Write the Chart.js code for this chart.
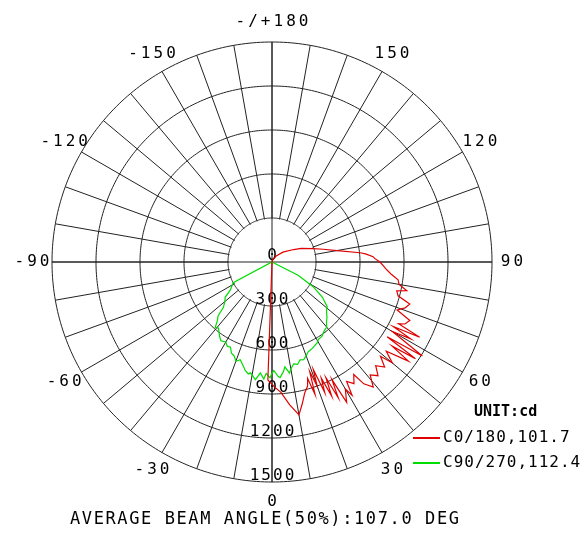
<!DOCTYPE html>
<html>
<head>
<meta charset="utf-8">
<script src="https://cdn.jsdelivr.net/npm/chart.js@4"></script>
<style>
  body{margin:0;background:#fff;font-family:"DejaVu Sans Mono",monospace;}
  #wrap{position:relative;width:587px;height:541px;}
  .t{position:absolute;font-size:16px;color:#000;white-space:nowrap;letter-spacing:1px;}
  .sw{position:absolute;height:2px;width:27px;}
</style>
</head>
<body>
<div id="wrap">
  <canvas id="c" width="587" height="541"></canvas>
  <div class="t" style="left:474px;top:402px;font-weight:bold;font-size:15px;letter-spacing:0">UNIT:cd</div>
  <div class="sw" style="left:413px;top:437px;background:#e00000"></div>
  <div class="t" style="left:443px;top:427px">C0/180,101.7</div>
  <div class="sw" style="left:413px;top:462px;background:#00dd00"></div>
  <div class="t" style="left:443px;top:452px">C90/270,112.4</div>
  <div class="t" style="left:70px;top:508px;font-size:17px;letter-spacing:1.6px">AVERAGE BEAM ANGLE(50%):107.0 DEG</div>
</div>
<script>
/* ---- data ---------------------------------------------------------- */
const TICKS = [0, 300, 600, 900, 1200, 1500];
const ANGLE_TEXT = {180:"-/+180",150:"150",120:"120",90:"90",60:"60",30:"30",0:"0",
  "-30":"-30","-60":"-60","-90":"-90","-120":"-120","-150":"-150"};

// C0/180 plane (angle in degrees, 0 = down, 90 = right)
const RED_ANG = [180,160,145,132,120,115,108,104,100,96,95,93,92,90,88,86,84,82,80,78,77,75,73,71,69,67,65,
  64,63,62,61,60,58,57,56,55,54,52,50,49,47,45,43,41,39,37,36,34,32,31,30,28,27,26,25,24,23,22,21,20,
  19,18,17,16,14,12,10,7,4,1,-2];
const RED_VAL = [0,20,50,100,170,220,293,360,450,604,640,690,700,736,760,786,820,868,880,940,873,890,982,960,914,1021,1000,
  960,1130,936,1080,948,1209,936,1180,1000,1150,989,1070,980,1050,1000,1060,1020,1097,1040,948,1000,960,1060,1000,1084,900,1030,870,1000,860,960,785,900,
  790,950,830,880,921,990,1058,980,893,850,805];

// C90/270 plane
const GREEN_ANG = [66,63,59,55,51,48,45,42,40,37,34,31,29,25,22,20,18,16,14,12,10,9,7,6,4,3,1,0,-1,-3,-4,-6,-8,-9,
  -11,-12,-14,-15,-18,-20,-22,-24,-26,-28,-30,-33,-35,-37,-39,-41,-43,-45,-47,-50,-53,-56,-59,-62,-66];
const GREEN_VAL = [0,200,327,420,484,500,530,555,580,590,610,615,632,650,660,680,700,694,720,710,740,767,720,750,790,780,740,757,790,760,800,760,810,796,
  770,780,760,742,700,720,690,680,646,650,630,640,622,600,580,590,546,520,453,420,400,343,320,300,0];

/* ---- build radar slots (1 deg, clockwise from top = 180) ----------- */
const LABELS = [];
for(let i=0;i<360;i++) LABELS.push(180-i);
function slots(ang, val){
  const d = new Array(360).fill(null);
  ang.forEach((a,k)=>{ d[180-a] = val[k]; });
  return d;
}

/* ---- decorations: inner blank circle, axes cross, labels ------------ */
const decor = {
  id:"decor",
  beforeDatasetsDraw(chart){
    const s = chart.scales.r, ctx = chart.ctx;
    const cx = s.xCenter, cy = s.yCenter, r3 = s.getDistanceFromCenterForValue(300);
    ctx.save();
    ctx.fillStyle = "#fff";
    ctx.beginPath(); ctx.arc(cx, cy, r3-0.8, 0, Math.PI*2); ctx.fill();
    ctx.strokeStyle = "#222"; ctx.lineWidth = 1;
    [0,90,180,270].forEach(i=>{
      const p = s.getPointPosition(i, s.drawingArea);
      ctx.beginPath(); ctx.moveTo(cx, cy); ctx.lineTo(p.x, p.y); ctx.stroke();
    });
    ctx.fillStyle = "#000"; ctx.font = "16px 'DejaVu Sans Mono'";
    ctx.letterSpacing = "2px";
    ctx.textAlign = "center"; ctx.textBaseline = "alphabetic";
    TICKS.forEach(v=>{
      const d = s.getDistanceFromCenterForValue(v);
      ctx.fillText(String(v), cx + 1, cy + d - 2);
    });
    ctx.restore();
  },
  afterDraw(chart){
    const s = chart.scales.r, ctx = chart.ctx;
    ctx.save();
    ctx.fillStyle = "#000"; ctx.font = "16px 'DejaVu Sans Mono'";
    ctx.letterSpacing = "3px";
    ctx.textAlign = "center"; ctx.textBaseline = "middle";
    Object.keys(ANGLE_TEXT).forEach(a=>{
      const p = s.getPointPosition(180 - (+a), s.drawingArea + 20);
      ctx.fillText(ANGLE_TEXT[a], p.x + 1.5, p.y);
    });
    ctx.restore();
  }
};

new Chart(document.getElementById("c"), {
  type:"radar",
  data:{ labels: LABELS, datasets:[
    { data: slots(RED_ANG, RED_VAL), borderColor:"#e00000", borderWidth:1.2, fill:false, pointRadius:0, tension:0 },
    { data: slots(GREEN_ANG, GREEN_VAL), borderColor:"#00dd00", borderWidth:1.2, fill:false, pointRadius:0, tension:0 }
  ]},
  options:{
    responsive:false, animation:false, spanGaps:true,
    layout:{ padding:{ left:52, right:95, top:42, bottom:59 } },
    plugins:{ legend:{display:false}, tooltip:{enabled:false} },
    scales:{ r:{
      min:0, max:1500,
      ticks:{ stepSize:300, display:false },
      pointLabels:{ display:false },
      grid:{ color:"#222", lineWidth:1 },
      angleLines:{ color: c => c.index%10===0 ? "#222" : "rgba(0,0,0,0)", lineWidth: c => c.index%10===0 ? 1 : 0 }
    }}
  },
  plugins:[decor]
});
</script>
</body>
</html>
